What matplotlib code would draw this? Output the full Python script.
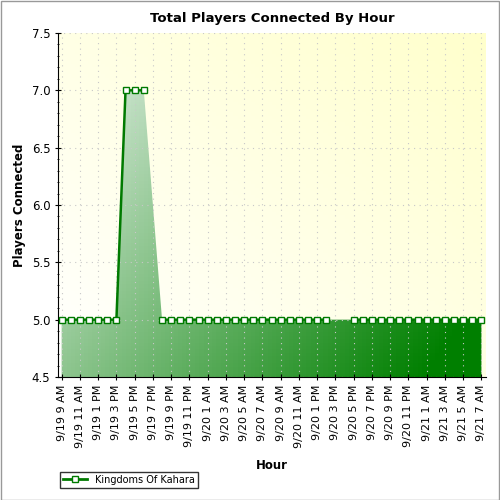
import matplotlib
matplotlib.use("Agg")
import matplotlib.pyplot as plt
import numpy as np
from matplotlib.ticker import MultipleLocator
from matplotlib.patches import Polygon
from matplotlib.lines import Line2D

# hourly samples from 9/19 9 AM to 9/21 7 AM, nan = no sample
players = [5, 5, 5, 5, 5, 5, 5, 7, 7, 7, np.nan] + [5] * 19 + [np.nan, np.nan] + [5] * 15
tick_labels = ["9/19 9 AM", "9/19 11 AM", "9/19 1 PM", "9/19 3 PM", "9/19 5 PM", "9/19 7 PM",
               "9/19 9 PM", "9/19 11 PM", "9/20 1 AM", "9/20 3 AM", "9/20 5 AM", "9/20 7 AM",
               "9/20 9 AM", "9/20 11 AM", "9/20 1 PM", "9/20 3 PM", "9/20 5 PM", "9/20 7 PM",
               "9/20 9 PM", "9/20 11 PM", "9/21 1 AM", "9/21 3 AM", "9/21 5 AM", "9/21 7 AM"]

y = np.array(players, dtype=float)
x = np.arange(len(y))
valid = ~np.isnan(y)

fig = plt.figure(figsize=(5, 5), dpi=100)
fig.patch.set_facecolor("white")
ax = fig.add_axes([0.116, 0.246, 0.856, 0.688])
x0, x1 = -0.4, len(y) - 0.5

# background gradient (white bottom-left -> pale yellow top-right)
gx, gy = np.meshgrid(np.linspace(0, 1, 100), np.linspace(0, 1, 100))
t = (gx + gy) / 2
bg = np.dstack([np.ones_like(t), np.ones_like(t), 1 - 0.2 * t])
ax.imshow(bg, extent=[x0, x1, 4.5, 7.5], origin="lower", aspect="auto", zorder=0)

# gradient fill under the curve
xv, yv = x[valid], y[valid]
poly = Polygon(np.column_stack([np.r_[xv[0], xv, xv[-1]], np.r_[4.5, yv, 4.5]]),
               closed=True, facecolor="none", edgecolor="none")
ax.add_patch(poly)
s = np.clip(gx * 0.7 + (1 - gy) * 0.4, 0, 1)
light = np.array([0.93, 0.96, 0.94])
dark = np.array([0.0, 0.5, 0.0])
fill = light + (dark - light) * s[..., None]
im = ax.imshow(fill, extent=[x0, x1, 4.5, 7.5], origin="lower", aspect="auto", zorder=1)
im.set_clip_path(poly)
ax.set_ylim(4.5, 7.5)
ax.set_xlim(x0, x1)

ax.grid(True, color="#c8c8c8", linestyle=(0, (1, 4)), linewidth=0.8, zorder=0.5)
ax.plot(x, y, color="#007a00", linewidth=1.8, marker="s", markersize=5,
        markerfacecolor="white", markeredgecolor="#007a00", markeredgewidth=1, zorder=3,
        clip_on=False)

ax.yaxis.set_major_locator(MultipleLocator(0.5))
ax.yaxis.set_minor_locator(MultipleLocator(0.1))
ax.set_yticklabels([f"{v:.1f}" for v in ax.get_yticks()], fontsize=8.5)
ax.set_xticks(x[::2])
ax.set_xticklabels(tick_labels, rotation=90, fontsize=8)
ax.tick_params(axis="both", which="major", length=4, direction="inout")
ax.tick_params(axis="y", which="minor", length=2, direction="inout")
for side in ["top", "right"]:
    ax.spines[side].set_visible(False)

ax.set_title("Total Players Connected By Hour", fontsize=9.5, fontweight="bold", pad=8)
ax.set_ylabel("Players Connected", fontsize=8.5, fontweight="bold")
ax.set_xlabel("Hour", fontsize=8.5, fontweight="bold", labelpad=8)

handle = Line2D([], [], color="#007a00", linewidth=2, marker="s", markersize=5,
                markerfacecolor="white", markeredgecolor="#007a00")
fig.legend([handle], ["Kingdoms Of Kahara"], loc="lower left", bbox_to_anchor=(0.11, 0.015),
           fontsize=7, frameon=True, fancybox=False, edgecolor="black", borderpad=0.3,
           handlelength=2.5)

fig.add_artist(plt.Rectangle((0.001, 0.001), 0.997, 0.997, transform=fig.transFigure,
                             fill=False, edgecolor="#999999", linewidth=1))
fig.savefig("out.png", dpi=100)
